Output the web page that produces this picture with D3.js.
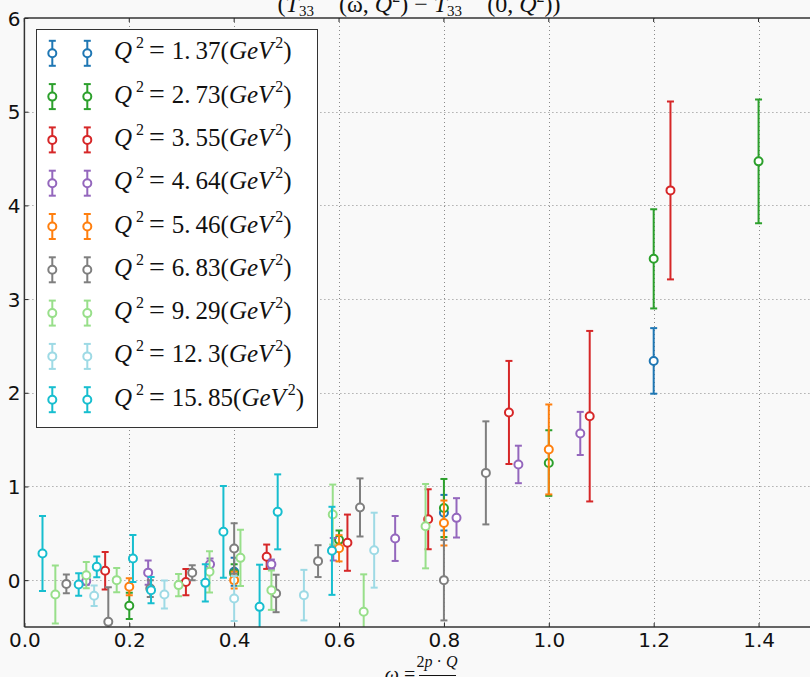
<!DOCTYPE html>
<html><head><meta charset="utf-8">
<script src="https://cdn.jsdelivr.net/npm/d3@7"></script>
<style>
html,body{margin:0;padding:0;background:#f9f9f9;}
svg{display:block;}
</style></head>
<body>
<svg id="chart" width="810" height="677"></svg>
<script>
// ---- data ----
const q2Labels = ["1.37","2.73","3.55","4.64","5.46","6.83","9.29","12.3","15.85"];
const seriesColors = ["#1f77b4","#2ca02c","#d62728","#9467bd","#ff7f0e","#7f7f7f","#98df8a","#9edae5","#17becf"];

const w_137 = [0.4, 0.8, 1.2];
const v_137 = [0.09, 0.72, 2.34];
const e_137 = [0.15, 0.19, 0.35];

const w_273 = [0.2, 0.4, 0.6, 0.8, 1.0, 1.2, 1.4];
const v_273 = [-0.274, 0.07, 0.43, 0.77, 1.25, 3.43, 4.47];
const e_273 = [0.14, 0.1, 0.1, 0.31, 0.35, 0.53, 0.66];

const w_355 = [0.154, 0.308, 0.462, 0.616, 0.770, 0.924, 1.078, 1.232];
const v_355 = [0.10, -0.02, 0.25, 0.40, 0.65, 1.79, 1.75, 4.16];
const e_355 = [0.2, 0.14, 0.13, 0.3, 0.32, 0.55, 0.91, 0.95];

const w_464 = [0.118, 0.236, 0.354, 0.471, 0.589, 0.707, 0.824, 0.942, 1.060];
const v_464 = [-0.01, 0.08, 0.17, 0.17, 0.33, 0.445, 0.665, 1.235, 1.566];
const e_464 = [0.04, 0.13, 0.06, 0.05, 0.12, 0.24, 0.21, 0.2, 0.23];

const w_546 = [0.2, 0.4, 0.6, 0.8, 1.0];
const v_546 = [-0.07, 0.0, 0.34, 0.61, 1.395];
const e_546 = [0.09, 0.09, 0.14, 0.24, 0.48];

const w_683 = [0.08, 0.16, 0.24, 0.32, 0.40, 0.48, 0.56, 0.64, 0.80, 0.88];
const v_683 = [-0.04, -0.445, -0.09, 0.08, 0.338, -0.142, 0.203, 0.776, 0.0, 1.145];
const e_683 = [0.1, 0.37, 0.09, 0.08, 0.27, 0.2, 0.17, 0.31, 0.43, 0.55];

const w_929 = [0.059, 0.118, 0.176, 0.294, 0.353, 0.412, 0.471, 0.588, 0.647, 0.765];
const v_929 = [-0.153, 0.053, 0.0, -0.053, 0.089, 0.238, -0.107, 0.70, -0.338, 0.576];
const e_929 = [0.31, 0.14, 0.13, 0.12, 0.22, 0.3, 0.21, 0.32, 0.4, 0.45];

const w_123 = [0.133, 0.267, 0.400, 0.533, 0.667];
const v_123 = [-0.167, -0.153, -0.195, -0.16, 0.32];
const e_123 = [0.11, 0.15, 0.24, 0.27, 0.4];

const w_1585 = [0.0345, 0.1035, 0.138, 0.207, 0.2415, 0.345, 0.3795, 0.4485, 0.483, 0.5865];
const v_1585 = [0.285, -0.046, 0.142, 0.231, -0.107, -0.029, 0.516, -0.285, 0.729, 0.313];
const e_1585 = [0.4, 0.12, 0.11, 0.25, 0.14, 0.2, 0.49, 0.45, 0.4, 0.47];

const xTicks = [0.0, 0.2, 0.4, 0.6, 0.8, 1.0, 1.2, 1.4];
const yTicks = [0, 1, 2, 3, 4, 5, 6];

const seriesW = [w_137, w_273, w_355, w_464, w_546, w_683, w_929, w_123, w_1585];
const seriesV = [v_137, v_273, v_355, v_464, v_546, v_683, v_929, v_123, v_1585];
const seriesE = [e_137, e_273, e_355, e_464, e_546, e_683, e_929, e_123, e_1585];

// ---- layout ----
const svg = d3.select("#chart");
const L = 24.4, R = 811, T = 18, B = 627;
const x = d3.scaleLinear().domain([0, 1.5]).range([L, R]);
const y = d3.scaleLinear().domain([-0.5, 6]).range([B, T]);
const serif = "'Liberation Serif','DejaVu Serif',serif";
const sans = "'DejaVu Sans',sans-serif";

svg.append("defs").append("clipPath").attr("id","clip")
  .append("rect").attr("x",L).attr("y",T).attr("width",R-L).attr("height",B-T);

// grid
const grid = svg.append("g").attr("stroke","#8a8a8a").attr("stroke-width",1).attr("stroke-dasharray","1,3");
grid.selectAll("line.gx").data(xTicks.filter(d=>d>0)).join("line")
  .attr("x1",d=>Math.round(x(d))+0.5).attr("x2",d=>Math.round(x(d))+0.5).attr("y1",T).attr("y2",B);
grid.selectAll("line.gy").data(yTicks.filter(d=>d<6)).join("line")
  .attr("y1",d=>Math.round(y(d))+0.5).attr("y2",d=>Math.round(y(d))+0.5).attr("x1",L).attr("x2",R);

// data
const plot = svg.append("g").attr("clip-path","url(#clip)");
const capHalf = 3.5;
seriesW.forEach((ws, si) => {
  const pts = ws.map((w,i)=>({w, v: seriesV[si][i], e: seriesE[si][i]}));
  const g = plot.append("g").attr("stroke", seriesColors[si]).attr("stroke-width", 2);
  g.selectAll("line.bar").data(pts).join("line")
    .attr("x1",d=>x(d.w)).attr("x2",d=>x(d.w))
    .attr("y1",d=>y(d.v+d.e)).attr("y2",d=>y(d.v-d.e));
  g.selectAll("line.capt").data(pts).join("line")
    .attr("x1",d=>x(d.w)-capHalf).attr("x2",d=>x(d.w)+capHalf)
    .attr("y1",d=>y(d.v+d.e)).attr("y2",d=>y(d.v+d.e));
  g.selectAll("line.capb").data(pts).join("line")
    .attr("x1",d=>x(d.w)-capHalf).attr("x2",d=>x(d.w)+capHalf)
    .attr("y1",d=>y(d.v-d.e)).attr("y2",d=>y(d.v-d.e));
  g.selectAll("circle").data(pts).join("circle")
    .attr("cx",d=>x(d.w)).attr("cy",d=>y(d.v)).attr("r",4)
    .attr("fill","#ffffff");
});

// axes
const xAxis = svg.append("g").attr("transform",`translate(0,${B})`)
  .call(d3.axisBottom(x).tickValues(xTicks).tickFormat(d3.format(".1f")).tickSizeInner(-4).tickSizeOuter(0).tickPadding(6));
const yAxis = svg.append("g").attr("transform",`translate(${L},0)`)
  .call(d3.axisLeft(y).tickValues(yTicks).tickFormat(d3.format("d")).tickSizeInner(-4).tickSizeOuter(0).tickPadding(4));
[xAxis, yAxis].forEach(a=>{
  a.select(".domain").remove();
  a.selectAll(".tick line").attr("stroke","#222").attr("stroke-width",1);
  a.selectAll(".tick text").attr("font-family",sans).attr("font-size",20).attr("fill","#111");
});
yAxis.selectAll(".tick text").attr("dy","0.36em");
// top ticks
svg.append("g").selectAll("line").data(xTicks).join("line")
  .attr("x1",d=>x(d)).attr("x2",d=>x(d)).attr("y1",T).attr("y2",T+4).attr("stroke","#222");

// spines
const sp = svg.append("g").attr("stroke","#333").attr("stroke-width",1.5).attr("fill","none");
sp.append("line").attr("x1",L).attr("x2",R).attr("y1",T).attr("y2",T);
sp.append("line").attr("x1",L).attr("x2",R).attr("y1",B).attr("y2",B);
sp.append("line").attr("x1",L).attr("x2",L).attr("y1",T).attr("y2",B);

// legend
const lg = svg.append("g");
lg.append("rect").attr("x",36.5).attr("y",29.5).attr("width",281).attr("height",398)
  .attr("fill","#ffffff").attr("stroke","#333").attr("stroke-width",1);
q2Labels.forEach((lab, i) => {
  const cy = 53.3 + i*43.3;
  const col = seriesColors[i];
  [52.3, 87.3].forEach(cx => {
    const m = lg.append("g").attr("stroke",col).attr("stroke-width",2);
    m.append("line").attr("x1",cx).attr("x2",cx).attr("y1",cy-12.5).attr("y2",cy+12.5);
    m.append("line").attr("x1",cx-3.5).attr("x2",cx+3.5).attr("y1",cy-12.5).attr("y2",cy-12.5);
    m.append("line").attr("x1",cx-3.5).attr("x2",cx+3.5).attr("y1",cy+12.5).attr("y2",cy+12.5);
    m.append("circle").attr("cx",cx).attr("cy",cy).attr("r",4).attr("fill","#fff");
  });
  const t = lg.append("text").attr("x",114).attr("y",cy+6).attr("font-family",serif)
    .attr("font-size",25).attr("fill","#111");
  t.append("tspan").attr("font-style","italic").text("Q");
  t.append("tspan").attr("font-size",16).attr("dy",-11).attr("dx",4).text("2");
  t.append("tspan").attr("dy",11).attr("dx",5).attr("font-size",28).text("=");
  const parts = lab.split(".");
  t.append("tspan").attr("dx",7).text(parts[0] + ".");
  t.append("tspan").attr("dx",5).text(parts[1]);
  t.append("tspan").text("(");
  t.append("tspan").attr("font-style","italic").text("GeV");
  t.append("tspan").attr("font-size",16).attr("dy",-11).attr("dx",2).text("2");
  t.append("tspan").attr("dy",11).text(")");
});

// title (partially clipped at top of page, as in the reference)
const title = svg.append("text").attr("x",419).attr("y",12).attr("text-anchor","middle")
  .attr("font-family",serif).attr("font-size",24).attr("fill","#111");
function addT(arg){
  title.append("tspan").attr("font-style","italic").text("T");
  const sup = title.append("tspan").attr("font-size",15).attr("font-style","italic").attr("dy",-12).text("uu\u2212dd");
  const sub = title.append("tspan").attr("font-size",15).attr("dy",16).text("33");
  title.append("tspan").attr("dy",-4).text(arg);
  return [sup, sub];
}
title.append("tspan").text("(");
const a1 = addT("(\u03c9, ");
title.append("tspan").attr("font-style","italic").text("Q");
title.append("tspan").attr("font-size",16).attr("dy",-10).text("2");
title.append("tspan").attr("dy",10).text(") \u2212 ");
const a2 = addT("(0, ");
title.append("tspan").attr("font-style","italic").text("Q");
title.append("tspan").attr("font-size",16).attr("dy",-10).text("2");
title.append("tspan").attr("dy",10).text("))");
[a1, a2].forEach(([sup, sub]) => {
  const ls = sup.node().getComputedTextLength();
  const lb = sub.node().getComputedTextLength();
  sub.attr("dx", -ls);
  const nxt = sub.node().nextSibling;
  d3.select(nxt).attr("dx", Math.max(0, ls - lb));
});

// x label (partially clipped at bottom, as in the reference)
const xl = svg.append("g").attr("font-family",serif).attr("fill","#111");
xl.append("text").attr("x",400).attr("y",681).attr("text-anchor","middle").attr("font-size",20)
  .html('<tspan font-style="italic">\u03c9</tspan> =');
xl.append("text").attr("x",437).attr("y",667).attr("text-anchor","middle").attr("font-size",16)
  .html('2<tspan font-style="italic">p</tspan> \u00b7 <tspan font-style="italic">Q</tspan>');
xl.append("line").attr("x1",419).attr("x2",456).attr("y1",675.5).attr("y2",675.5).attr("stroke","#111").attr("stroke-width",1);
xl.append("text").attr("x",437).attr("y",694).attr("text-anchor","middle").attr("font-size",16)
  .html('<tspan font-style="italic">Q</tspan><tspan font-size="11" dy="-6">2</tspan>');
</script>
</body></html>
